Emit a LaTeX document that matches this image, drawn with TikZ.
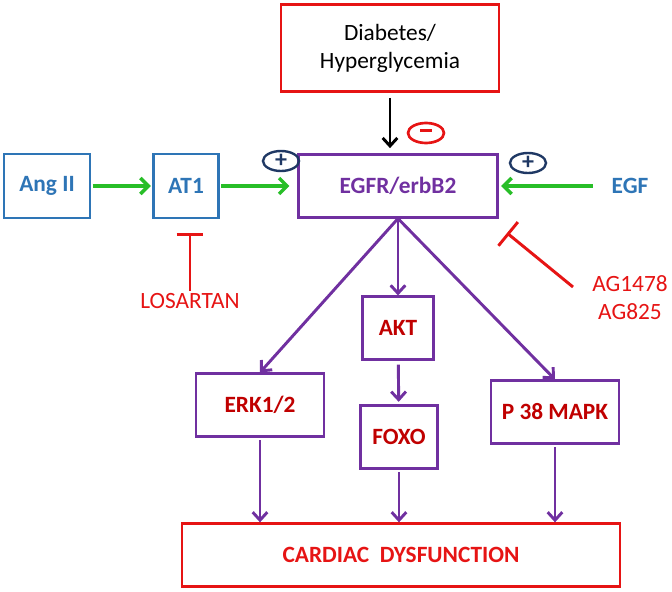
\documentclass[tikz,border=0pt]{standalone}
\usepackage{fontspec}
\setmainfont{Carlito}
\usetikzlibrary{shapes.geometric,arrows.meta,positioning,calc}

\definecolor{pathblue}{RGB}{46,117,182}
\definecolor{pathpurple}{RGB}{112,48,160}
\definecolor{pathred}{RGB}{230,20,20}
\definecolor{darkred}{RGB}{192,0,0}
\definecolor{pathgreen}{RGB}{40,190,40}
\definecolor{navy}{RGB}{31,56,100}

\begin{document}
\begin{tikzpicture}[x=0.75pt,y=-0.75pt,line width=1.8pt,font=\fontsize{17.5}{21}\selectfont]
    \tikzstyle{box}=[draw,rectangle,minimum height=47pt,inner sep=2pt]
    \tikzstyle{blue box}=[box, draw=pathblue, text=pathblue, font=\fontsize{17.5}{21}\selectfont\bfseries]
    \tikzstyle{purple box}=[box, draw=pathpurple, text=darkred, font=\fontsize{17.5}{21}\selectfont\bfseries]
    \tikzstyle{red box}=[box, draw=pathred, line width=2pt]
    \tikzstyle{sign}=[ellipse, draw, minimum width=27pt, minimum height=15pt, inner sep=0pt]
    \tikzstyle{green arrow}=[->, draw=pathgreen, line width=2.6pt, >={Straight Barb[length=6pt,width=12pt]}]
    \tikzstyle{purple arrow}=[->, draw=pathpurple, line width=2.2pt, >={Straight Barb[length=6pt,width=11pt]}]
    \tikzstyle{inhibit}=[-{Bar[width=20pt]}, draw=pathred, line width=2.2pt]
    \useasboundingbox (0,0) rectangle (672,592);

    % Draw the top box and the receptor
    \node[red box, minimum width=163.5pt, minimum height=65pt, align=center] (diab) at (390,48) {Diabetes/\\Hyperglycemia};
    \node[purple box, minimum width=149pt, text=pathpurple] (egfr) at (398,186) {EGFR/erbB2};

    % Draw the left chain and EGF
    \node[blue box, minimum width=64.5pt, minimum height=48pt] (ang) at (47,186) {Ang II};
    \node[blue box, minimum width=49pt, minimum height=48pt] (at1) at (186,186) {AT1};
    \node[text=pathblue, font=\fontsize{17.5}{21}\selectfont\bfseries] (egf) at (630,186) {EGF};

    % Draw the downstream nodes
    \foreach \name / \x / \y / \w / \txt in {akt/398/328/53/AKT, foxo/399/437/58/FOXO, erk/260/405/96/{ERK1/2}, p38/555/412/96/P 38 MAPK}
        \node[purple box, minimum width=\w pt] (\name) at (\x,\y) {\txt};
    \node[red box, minimum width=328.5pt, text=pathred, font=\fontsize{17.5}{21}\selectfont\bfseries] (card) at (401,555) {CARDIAC\ \ DYSFUNCTION};

    % Inhibitors
    \node[text=pathred, inner sep=1pt, anchor=north] (los) at (190,291) {LOSARTAN};
    \node[text=pathred, align=center] (ag) at (630,298) {AG1478\\AG825};
    \coordinate (los bar) at (190,233);
    \coordinate (ag start) at (573,287);
    \coordinate (ag bar) at (507,233);
    \draw[inhibit] (los.north) -- (los bar);
    \draw[inhibit, -{Bar[width=23pt]}] (ag start) -- (ag bar);

    % Signs
    \node[sign, draw=navy, text=navy, font=\fontsize{18}{18}\selectfont\bfseries] (plus a) at (281,161) {+};
    \node[sign, draw=navy, text=navy, font=\fontsize{18}{18}\selectfont\bfseries] (plus b) at (528,163) {+};
    \node[sign, draw=pathred, line width=2pt] (minus) at (426,133) {\textcolor{pathred}{\rule[0.5ex]{9pt}{2.4pt}}};

    % Connect the input side to the receptor
    \draw[green arrow, shorten <=1pt, shorten >=1pt] (ang) -- (at1);
    \draw[green arrow, shorten <=1pt, shorten >=6pt] (at1) -- (egfr);
    \draw[green arrow, shorten <=10pt, shorten >=2pt] (egf) -- (egfr);
    \draw[->, line width=2.2pt, shorten <=4pt, shorten >=4pt, >={Straight Barb[length=6pt,width=11pt]}] (diab.south) -- (diab.south |- egfr.north);

    % Connect the receptor with the downstream nodes
    \foreach \dest in {erk, akt, p38}
        \draw[purple arrow] (egfr.south) -- (\dest.north);
    \draw[purple arrow, shorten <=3pt, shorten >=2pt] (akt) -- (foxo);
    \foreach \source in {erk, foxo, p38}
        \draw[purple arrow, shorten <=2pt] (\source.south) -- (\source.south |- card.north);
\end{tikzpicture}
\end{document}
